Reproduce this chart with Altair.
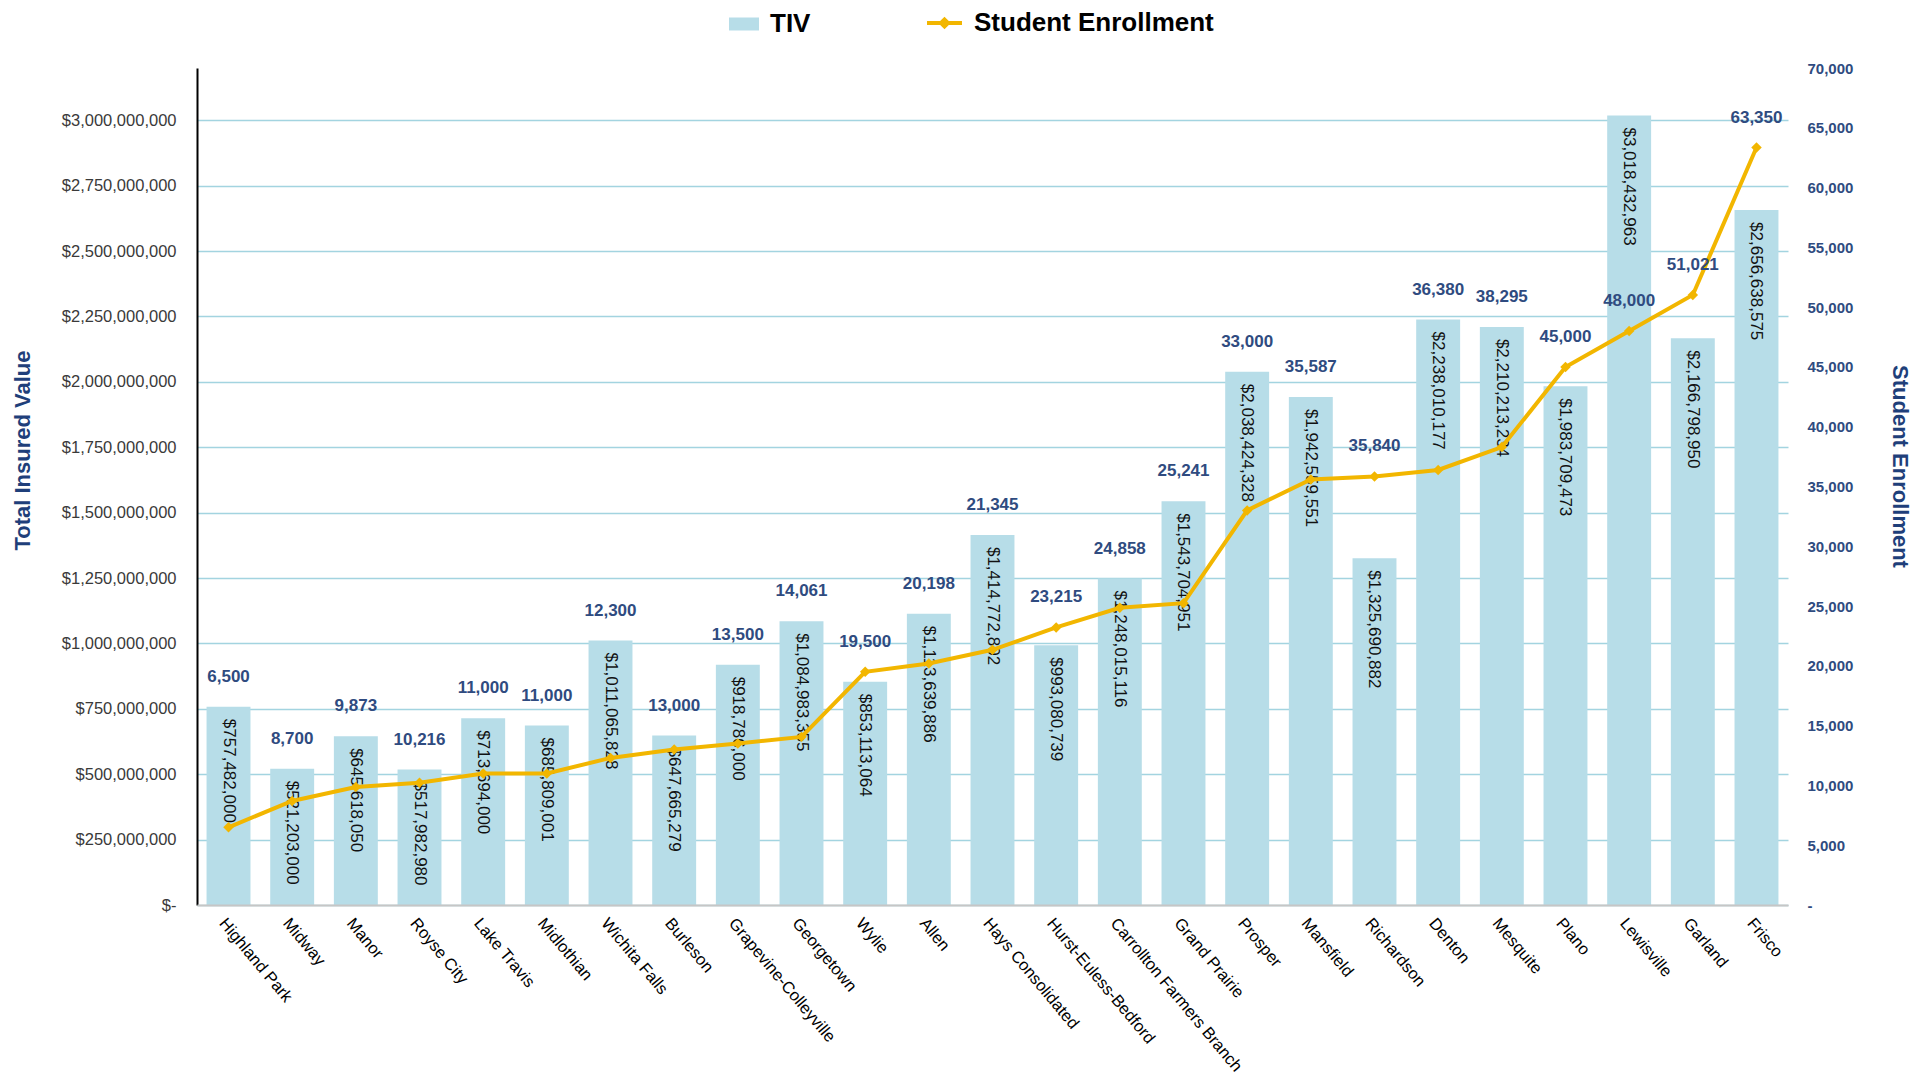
import altair as alt
import pandas as pd

districts = ["Highland Park", "Midway", "Manor", "Royse City", "Lake Travis", "Midlothian",
             "Wichita Falls", "Burleson", "Grapevine-Colleyville", "Georgetown", "Wylie", "Allen",
             "Hays Consolidated", "Hurst-Euless-Bedford", "Carrollton Farmers Branch", "Grand Prairie",
             "Prosper", "Mansfield", "Richardson", "Denton", "Mesquite", "Plano", "Lewisville",
             "Garland", "Frisco"]
tiv = [757482000, 521203000, 645618050, 517982980, 713694000, 685809001, 1011065828, 647665279,
       918786000, 1084983355, 853113064, 1113639886, 1414772802, 993080739, 1248015116, 1543704951,
       2038424328, 1942559551, 1325690882, 2238010177, 2210213234, 1983709473, 3018432963,
       2166798950, 2656638575]
enrollment = [6500, 8700, 9873, 10216, 11000, 11000, 12300, 13000, 13500, 14061, 19500, 20198,
              21345, 23215, 24858, 25241, 33000, 35587, 35840, 36380, 38295, 45000, 48000, 51021, 63350]

tiv_ticks = [i * 250000000 for i in range(13)]
enr_ticks = [i * 5000 for i in range(15)]
TIV_MAX = 3200000000
ENR_MAX = 70000

df = pd.DataFrame({"District": districts, "TIV": tiv, "Enrollment": enrollment})

W, H = 1591, 837
FONT = "Liberation Sans, Arial, sans-serif"
NARROW = "Liberation Sans Narrow, Arial Narrow, Liberation Sans, sans-serif"
BLUE = "#b7dde8"
GOLD = "#f2b600"
NAVY = "#1f3f7a"
LBL = "#2f4b80"

base = alt.Chart(df)

x = alt.X("District:N", sort=districts,
          scale=alt.Scale(paddingInner=0.31, paddingOuter=0.15),
          axis=alt.Axis(title=None, labelAngle=50, labelAlign="left", labelBaseline="top",
                        labelFont=FONT, labelFontSize=16.5, labelColor="#000", labelPadding=10,
                        labelLimit=400, ticks=False, domainColor="#c6c6c6", domainWidth=2, zindex=1))

y_tiv = alt.Y("TIV:Q", scale=alt.Scale(domain=[0, TIV_MAX], nice=False),
              axis=alt.Axis(title="Total Insured Value", values=tiv_ticks,
                            labelExpr="datum.value == 0 ? '$-' : '$' + format(datum.value, ',')",
                            grid=True, gridColor="#a3d4e0", gridWidth=1.5, ticks=False,
                            domainColor="#000", domainWidth=2,
                            labelFont=FONT, labelFontSize=16.5, labelColor="#3a3a3a", labelPadding=21,
                            titleFont=NARROW, titleFontSize=22, titleFontWeight="bold",
                            titleColor=NAVY, titleX=-175, titleY=382, titleAngle=-90,
                            titleBaseline="middle"))

bars = base.transform_calculate(s1="'TIV'").mark_bar().encode(
    x=x, y=y_tiv,
    color=alt.Color("s1:N", scale=alt.Scale(domain=["TIV"], range=[BLUE]),
                    legend=alt.Legend(orient="none", legendX=534, legendY=-57, title=None,
                                      symbolType="M-1.5,-0.65H1.5V0.65H-1.5Z", symbolSize=400,
                                      symbolStrokeWidth=0, labelFont=FONT, labelFontSize=26,
                                      labelFontWeight="bold", labelColor="#000", labelOffset=13,
                                      labelLimit=400)))

bar_labels = base.transform_calculate(lbl="'$' + format(datum.TIV, ',')").mark_text(
    angle=90, align="left", baseline="middle", dx=12, font=FONT, fontSize=17, color="#111"
).encode(x=x, y=alt.Y("TIV:Q"), text="lbl:N")

left = alt.layer(bars, bar_labels)

enr_axis = alt.Axis(orient="right", title="Student Enrollment", values=enr_ticks,
                    labelExpr="datum.value == 0 ? '-' : format(datum.value, ',')",
                    grid=False, ticks=False, domain=False,
                    labelFont=FONT, labelFontSize=15, labelFontWeight="bold", labelColor=LBL,
                    labelPadding=19,
                    titleFont=NARROW, titleFontSize=22, titleFontWeight="bold",
                    titleColor=NAVY, titleX=111, titleY=398, titleAngle=90,
                    titleBaseline="middle")
enr_scale = alt.Scale(domain=[0, ENR_MAX], nice=False)

y_enr = alt.Y("Enrollment:Q", scale=enr_scale, axis=enr_axis)

line = base.transform_calculate(s2="'Student Enrollment'").mark_line(strokeWidth=4).encode(
    x=x, y=y_enr,
    stroke=alt.Stroke("s2:N", scale=alt.Scale(domain=["Student Enrollment"], range=[GOLD]),
                      legend=alt.Legend(orient="none", legendX=728, legendY=-64.5, title=None,
                                        symbolType="M-1,0H1M-0.2,0L0,-0.2L0.2,0L0,0.2Z",
                                        symbolSize=1225, symbolStrokeWidth=4, symbolFillColor=GOLD,
                                        labelFont=FONT, labelFontSize=26, labelFontWeight="bold",
                                        labelColor="#000", labelOffset=10, labelLimit=400)))

points = base.mark_point(shape="diamond", filled=True, size=110, color=GOLD, opacity=1).encode(
    x=x, y=y_enr)

# label sits above the bar top, unless the point is higher or far below the bar top
enr_labels = base.transform_calculate(
    teq=f"datum.TIV * {ENR_MAX} / {TIV_MAX}"
).transform_calculate(
    anchor="(datum.teq - datum.Enrollment > 15000) ? datum.Enrollment : max(datum.Enrollment, datum.teq)",
    lbl="format(datum.Enrollment, ',')"
).mark_text(baseline="middle", dy=-30, font=FONT, fontSize=17, fontWeight="bold", color=LBL).encode(
    x=x, y=alt.Y("anchor:Q", scale=enr_scale, axis=enr_axis), text="lbl:N")

right = alt.layer(line, points, enr_labels)

chart = alt.layer(left, right).resolve_scale(y="independent", color="independent").properties(
    width=W, height=H,
    padding={"left": 189, "top": 60, "right": 125, "bottom": 172},
    autosize=alt.AutoSizeParams(type="none"),
    background="white"
).configure_view(stroke=None)

chart.save("out.html", embed_options={"renderer": "svg", "actions": False})
